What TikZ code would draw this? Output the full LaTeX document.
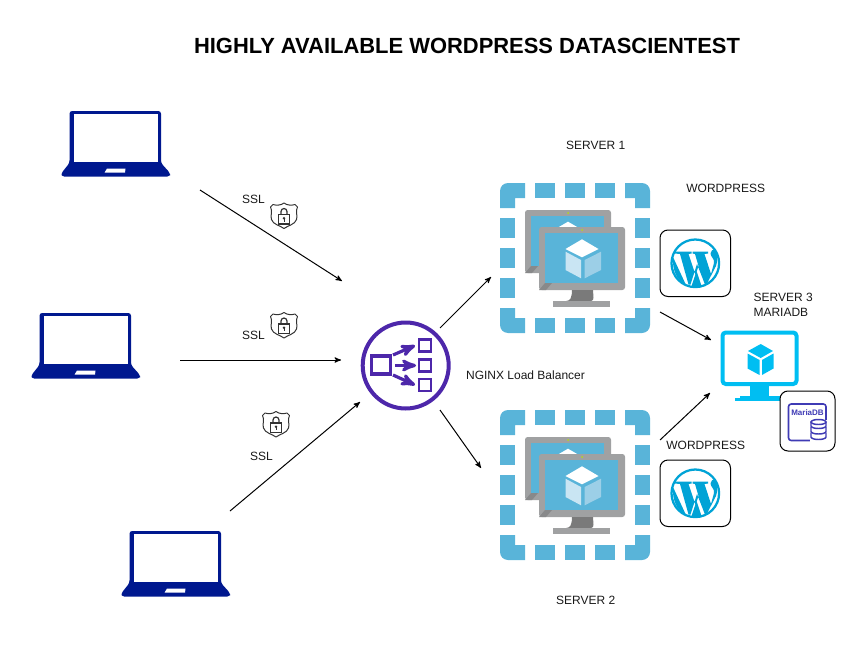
\documentclass[tikz,border=0pt]{standalone}
\usepackage{fontspec}
\setmainfont{Liberation Sans}
\usetikzlibrary{arrows}
\definecolor{laptopblue}{HTML}{00188F}
\definecolor{vmblue}{HTML}{59B4D9}
\definecolor{vmgray}{HTML}{A0A1A2}
\definecolor{vmdark}{HTML}{7A7A7A}
\definecolor{faceleft}{HTML}{C9E5F3}
\definecolor{faceright}{HTML}{9CCFE7}
\definecolor{wpblue}{HTML}{00A3D6}
\definecolor{dbcyan}{HTML}{00BEF2}
\definecolor{lbpurple}{HTML}{4D27AA}
\definecolor{mariablue}{HTML}{3F3BB5}
\tikzstyle{label}=[font=\fontsize{9}{11}\selectfont,text=black!90,inner sep=0pt]
\tikzstyle{iconbox}=[draw=black,line width=0.75pt,rounded corners=6pt,fill=white]
\tikzstyle{link}=[-stealth',line width=0.75pt,black]
\tikzset{
  laptop/.pic={
    \fill[laptopblue,rounded corners=2pt] (8.5,0) -- (100,0) -- (100,52) -- (109,62) -- (109,65.5) -- (0.5,65.5) -- (0.5,62) -- (8.5,52) -- cycle;
    \fill[white] (13,3) rectangle (96.5,51);
    \fill[white] (46,61.7) -- (64,61.7) -- (64.5,57.5) -- (46,57.5) -- (43.5,61.7) -- cycle;
  },
  shield/.pic={
    \draw[black!80,line width=0.75pt,fill=white,line join=round] (0,-12.5) .. controls (3,-10) and (8,-10) .. (11,-11) -- (13.5,-8.5) .. controls (11,-4) and (14,0) .. (12.5,4) .. controls (11,9) and (4,10) .. (0,13) .. controls (-4,10) and (-11,9) .. (-12.5,4) .. controls (-14,0) and (-11,-4) .. (-13.5,-8.5) -- (-11,-11) .. controls (-8,-10) and (-3,-10) .. (0,-12.5) -- cycle;
    \draw[black!80,line width=0.9pt] (-3,-1) -- (-3,-4) arc (180:360:3) -- (3,-1);
    \draw[black!80,line width=0.9pt] (-5.5,-1) rectangle (5.5,8.5);
    \fill[black!80] (0,2.7) circle (1.4);
    \draw[black!80,line width=0.6pt] (0,2.7) -- (0,6);
  },
  cubeicon/.pic={
    \fill[white] (0,-9.7) -- (16.5,0) -- (0,8.3) -- (-16.5,0) -- cycle;
    \fill[faceleft] (-16.5,2.7) -- (-1,11) -- (-1,29.3) -- (-16.5,21) -- cycle;
    \fill[faceright] (2.7,11) -- (19,2.7) -- (19,21) -- (2.7,29.3) -- cycle;
  },
  monitor/.pic={
    \fill[vmgray,rounded corners=2pt] (0,0) rectangle (86,63);
    \fill[vmblue] (6,6) rectangle (79,56);
    \fill[vmgray!85!black] (0,63) -- (6,56) -- (13,56) -- (7,63) -- cycle;
    \fill[yellow!70!green] (43,3) circle (1);
  },
  vmgroup/.pic={
    % dashed frame
    \foreach \a in {0,90,180,270} {
      \begin{scope}[rotate around={\a:(75,75)}]
        \fill[vmblue] (0,25) -- (0,8) arc (180:270:8) -- (25,0) -- (25,15) -- (15,15) -- (15,25) -- cycle;
        \foreach \s in {35,65,95}
          \fill[vmblue] (\s,0) rectangle +(20,15);
      \end{scope}
    }
    % back and front screen
    \pic at (25,27) {monitor};
    \fill[white] (68,38.7) -- (78,44.5) -- (58,44.5) -- cycle;
    \pic at (39,44) {monitor};
    \fill[vmdark] (72,107) .. controls (72,115) and (70,118) .. (66,118) -- (91,118) .. controls (95,118) and (93,112) .. (93,107) -- cycle;
    \fill[vmgray] (53,118) rectangle (110,124);
    \pic at (82,66) {cubeicon};
  },
  wpbox/.pic={
    \draw[iconbox] (0,0) rectangle (70.5,66.5);
    \draw[wpblue,line width=1.7pt] (35.3,33.3) circle (23.8);
    \fill[wpblue] (15,21.5) -- (31.5,21.5) -- (31.5,23.5) -- (28.5,24) -- (35.5,45) -- (38.5,36) -- (35,24) -- (32.5,23.5) -- (32.5,21.5) -- (48,21.5) -- (48,23.5) -- (44.5,24) -- (51,44) -- (54,33) .. controls (55,29) and (50.5,27) .. (50.5,23.5) .. controls (50.5,20.5) and (53,19) .. (55.5,19.5) .. controls (58,24) and (58,30) .. (56,36) -- (46.5,54.5) -- (45,54.5) -- (37,34) -- (30.5,54.5) -- (28.5,54.5) -- (20,24) -- (15,23.5) -- cycle;
    \fill[wpblue] (13,27) -- (26,55) .. controls (18,51) and (12,42) .. (13,27) -- cycle;
    \fill[wpblue] (36.5,41) -- (41.5,56) -- (31.5,56) -- cycle;
  },
  mariabox/.pic={
    \draw[iconbox] (0,0) rectangle (55,60);
    \draw[mariablue,line width=1.2pt,rounded corners=2pt] (8.5,13) rectangle (46,49.5);
    \node[font=\fontsize{6}{7}\bfseries\selectfont,text=mariablue,inner sep=0pt] at (27.5,22) {MariaDB};
    \fill[white] (30,29) rectangle (48,52);
    \foreach \h in {45,39.5,34} {
      \draw[mariablue,line width=1.1pt,fill=white] (31,\h-3.5) -- (31,\h+1) arc (180:0:7.5 and 2.5) -- (46,\h-3.5);
    }
    \draw[mariablue,line width=1.1pt,fill=white] (38.5,31) ellipse (7.5 and 2.5);
  }
}

\begin{document}
\begin{tikzpicture}[x=0.75pt,y=-0.75pt,>=stealth']
    \useasboundingbox (0,0) rectangle (868,646);

    % clients
    \pic at (61,111) {laptop};
    \pic at (31,313) {laptop};
    \pic at (121,531) {laptop};
    \pic at (284,215.5) {shield};
    \pic at (284,325) {shield};
    \pic at (276,424) {shield};

    % load balancer
    \node [circle,draw=lbpurple,line width=3pt,minimum size=64.5pt,inner sep=0pt] (lb) at (405.7,365.5) {};
    \draw[lbpurple,line width=2.6pt] (371.5,356) rectangle (390.5,374);
    \foreach \y in {345.5,365.5,385} {
      \draw[lbpurple,line width=2.2pt] (419,\y-6) rectangle (431,\y+6);
    }
    \draw[lbpurple,line width=2.4pt,-stealth'] (393,355) -- (415,345.5);
    \draw[lbpurple,line width=2.4pt,-stealth'] (395,365.5) -- (416,365.5);
    \draw[lbpurple,line width=2.4pt,-stealth'] (393,375) -- (415,385);

    % servers
    \pic at (500,183) {vmgroup};
    \pic at (500,410) {vmgroup};
    \pic at (660,230) {wpbox};
    \pic at (660,460) {wpbox};

    % database server
    \draw[dbcyan,line width=3pt,rounded corners=2.5pt] (722.5,332.5) rectangle (796.5,384);
    \fill[dbcyan] (750,385) rectangle (769,396);
    \fill[dbcyan] (740,396) rectangle (780,398);
    \fill[dbcyan] (735,398) rectangle (783,401);
    \fill[dbcyan] (760.7,344) -- (773,351) -- (760.7,358) -- (748,351) -- cycle;
    \fill[dbcyan] (747.5,353.5) -- (759.5,360) -- (759.5,375) -- (747.5,368.5) -- cycle;
    \fill[dbcyan] (762,360) -- (773.5,353.5) -- (773.5,368.5) -- (762,375) -- cycle;
    \pic at (780,391) {mariabox};

    % texts
    \node [font=\fontsize{16.45}{20}\bfseries\selectfont,inner sep=0pt] (title) at (467,45.5) {HIGHLY AVAILABLE WORDPRESS DATASCIENTEST};
    \node [label] (s1) at (595.7,145) {SERVER 1};
    \node [label] (s2) at (585.7,600) {SERVER 2};
    \node [label,align=left,anchor=west] (s3) at (753.3,305) {SERVER 3\\MARIADB};
    \node [label] (wp1) at (725.7,188) {WORDPRESS};
    \node [label] (wp2) at (705.7,445) {WORDPRESS};
    \node [label] (nginx) at (525.5,375) {NGINX Load Balancer};
    \node [label] (ssl1) at (253.5,199) {SSL};
    \node [label] (ssl2) at (253.5,335) {SSL};
    \node [label] (ssl3) at (261.5,456) {SSL};

    % connector ends
    \coordinate (c1) at (200,190);
    \coordinate (c2) at (180,360);
    \coordinate (c3) at (230,511);
    \coordinate (lbin1) at (342,281);
    \coordinate (lbin2) at (341,360);
    \coordinate (lbin3) at (360,402);
    \coordinate (lbout1) at (440,328);
    \coordinate (lbout2) at (440,410);
    \coordinate (vm1in) at (491,277);
    \coordinate (vm2in) at (481,468);
    \coordinate (vm1out) at (660,312);
    \coordinate (vm2out) at (660,440);
    \coordinate (dbin1) at (711,340);
    \coordinate (dbin2) at (710,393);

    \path
      (c1) edge [link] (lbin1)
      (c2) edge [link] (lbin2)
      (c3) edge [link] (lbin3)
      (lbout1) edge [link] (vm1in)
      (lbout2) edge [link] (vm2in)
      (vm1out) edge [link] (dbin1)
      (vm2out) edge [link] (dbin2);
\end{tikzpicture}
\end{document}
